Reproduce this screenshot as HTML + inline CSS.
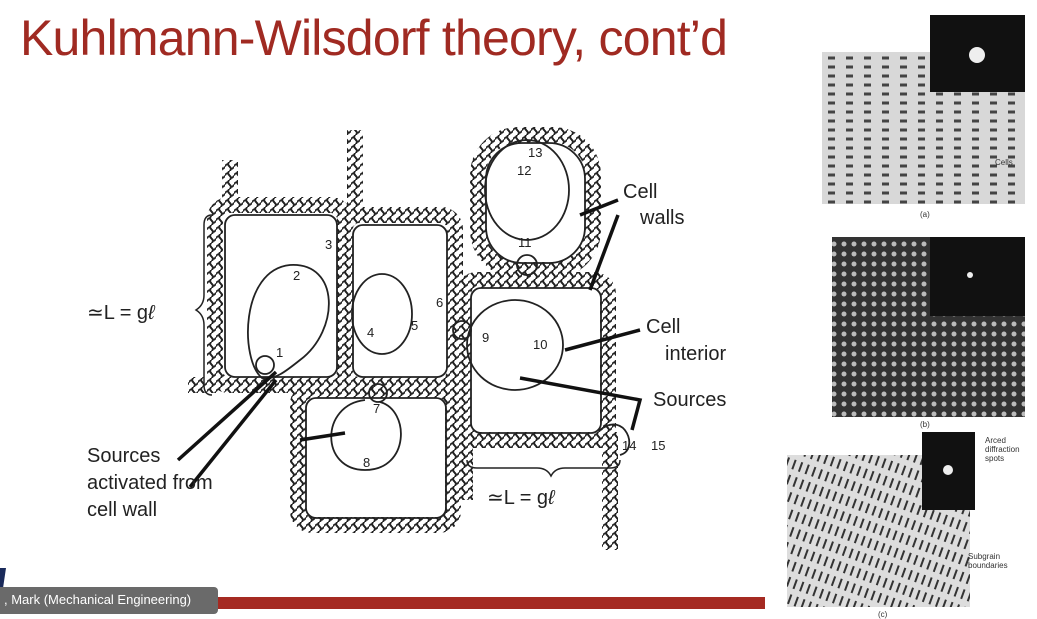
<!DOCTYPE html>
<html><head><meta charset="utf-8"><style>
body{margin:0;width:1037px;height:619px;background:#fff;position:relative;overflow:hidden;font-family:"Liberation Sans",sans-serif}
.t{position:absolute;left:20px;top:9px;font-size:50px;color:#a02a22;letter-spacing:-0.8px}
.l{position:absolute;font-size:20px;color:#222}
.s{position:absolute;font-size:8px;color:#333}
</style></head><body>
<div class="t">Kuhlmann-Wilsdorf theory, cont’d</div>
<svg width="1037" height="619" style="position:absolute;left:0;top:0">
<defs>
<pattern id="sc" width="9" height="9" patternUnits="userSpaceOnUse">
<rect width="9" height="9" fill="#fff"/>
<path d="M0 4.5 q2.2 -4.5 4.5 0 t4.5 0 M4.5 0 q-3 2.2 0 4.5 t0 4.5" stroke="#222" stroke-width="1.8" fill="none"/>
</pattern>
<pattern id="tx" width="18" height="9" patternUnits="userSpaceOnUse">
<rect width="18" height="9" fill="#d8d8d8"/><path d="M0 4 h7" stroke="#444" stroke-width="3"/>
</pattern>
<pattern id="tx2" width="10" height="10" patternUnits="userSpaceOnUse">
<rect width="10" height="10" fill="#333"/><circle cx="4" cy="4" r="2.5" fill="#bbb"/>
</pattern>
<pattern id="tx3" width="7" height="16" patternUnits="userSpaceOnUse" patternTransform="rotate(20)">
<rect width="7" height="16" fill="#ddd"/><path d="M2 0 v10" stroke="#333" stroke-width="2"/>
</pattern>
</defs>
<g fill="none" stroke="url(#sc)" stroke-width="16">
<rect x="215" y="205" width="130" height="180" rx="14"/>
<rect x="345" y="215" width="110" height="170" rx="14"/>
<rect x="298" y="390" width="155" height="135" rx="14"/>
<rect x="463" y="280" width="145" height="160" rx="14"/>
<rect x="478" y="135" width="115" height="135" rx="40"/>
<path d="M465 440 h145 v110 M230 160 v45 M355 130 v85 M188 385 h30 M465 440 v60"/>
</g>
<g fill="none" stroke="#222" stroke-width="1.8">
<rect x="225" y="215" width="112" height="162" rx="10"/>
<rect x="353" y="225" width="94" height="152" rx="10"/>
<rect x="306" y="398" width="140" height="120" rx="10"/>
<rect x="471" y="288" width="130" height="145" rx="10"/>
<rect x="486" y="143" width="99" height="120" rx="36"/>
<path d="M262 378 C240 360 240 270 290 265 C340 262 340 330 300 360 C285 372 275 380 262 378Z"/>
<ellipse cx="382" cy="314" rx="30" ry="40"/>
<ellipse cx="515" cy="345" rx="48" ry="45"/>
<ellipse cx="527" cy="190" rx="42" ry="50"/>
<path d="M365 400 C320 405 320 470 365 470 C410 470 410 410 380 402"/>
<path d="M600 430 C625 410 640 450 620 455"/>
<circle cx="265" cy="365" r="9"/>
<circle cx="462" cy="330" r="9"/>
<circle cx="527" cy="265" r="10"/>
<circle cx="378" cy="393" r="9"/>
</g>
<g stroke="#111" stroke-width="3.5">
<line x1="276" y1="372" x2="178" y2="460"/><line x1="276" y1="380" x2="190" y2="487"/>
<line x1="618" y1="200" x2="580" y2="215"/><line x1="618" y1="215" x2="590" y2="290"/>
<line x1="640" y1="330" x2="565" y2="350"/>
<line x1="345" y1="433" x2="300" y2="440"/>
<path d="M520 378 L640 400 L632 430" fill="none"/>
</g>
<path d="M212 215 q-8 0 -8 10 v70 q0 10 -8 15 q8 5 8 15 v60 q0 10 8 10" fill="none" stroke="#222" stroke-width="1.5"/>
<path d="M467 460 q0 8 10 8 h60 q10 0 14 8 q4 -8 14 -8 h45 q10 0 10 -8" fill="none" stroke="#222" stroke-width="1.5"/>
<g font-size="13" fill="#222" font-family="Liberation Sans">
<text x="276" y="357">1</text><text x="293" y="280">2</text><text x="325" y="249">3</text><text x="367" y="337">4</text>
<text x="411" y="330">5</text><text x="436" y="307">6</text><text x="373" y="413">7</text><text x="363" y="467">8</text>
<text x="482" y="342">9</text><text x="533" y="349">10</text><text x="518" y="247">11</text><text x="517" y="175">12</text>
<text x="528" y="157">13</text><text x="622" y="450">14</text><text x="651" y="450">15</text>
</g>
<rect x="822" y="52" width="203" height="152" fill="url(#tx)"/>
<rect x="930" y="15" width="95" height="77" fill="#111"/><circle cx="977" cy="55" r="8" fill="#eee"/>
<rect x="832" y="237" width="193" height="180" fill="url(#tx2)"/>
<rect x="930" y="237" width="95" height="79" fill="#111"/><circle cx="970" cy="275" r="3" fill="#eee"/>
<rect x="787" y="455" width="183" height="152" fill="url(#tx3)"/>
<rect x="922" y="432" width="53" height="78" fill="#111"/><circle cx="948" cy="470" r="5" fill="#eee"/>
<rect x="0" y="597" width="765" height="12" fill="#a52a22"/>
<path d="M0 568 L6 568 L2 595 L0 595Z" fill="#1a2a5a"/>
<rect x="-5" y="587" width="223" height="27" rx="4" fill="#6a6a6a"/>
</svg>
<div class="l" style="left:87px;top:300px">≃L = g<i>ℓ</i></div>
<div class="l" style="left:487px;top:485px">≃L = g<i>ℓ</i></div>
<div class="l" style="left:623px;top:181px">Cell</div>
<div class="l" style="left:640px;top:207px">walls</div>
<div class="l" style="left:646px;top:316px">Cell</div>
<div class="l" style="left:665px;top:343px">interior</div>
<div class="l" style="left:653px;top:389px">Sources</div>
<div class="l" style="left:87px;top:443px;line-height:27px">Sources<br>activated from<br>cell wall</div>
<div class="s" style="left:995px;top:158px">Cells</div>
<div class="s" style="left:920px;top:210px">(a)</div>
<div class="s" style="left:920px;top:420px">(b)</div>
<div class="s" style="left:985px;top:436px;line-height:9px">Arced<br>diffraction<br>spots</div>
<div class="s" style="left:968px;top:552px;line-height:9px">Subgrain<br>boundaries</div>
<div class="s" style="left:878px;top:610px">(c)</div>
<div style="position:absolute;left:4px;top:592px;font-size:13px;color:#fff">, Mark (Mechanical Engineering)</div>
</body></html>
